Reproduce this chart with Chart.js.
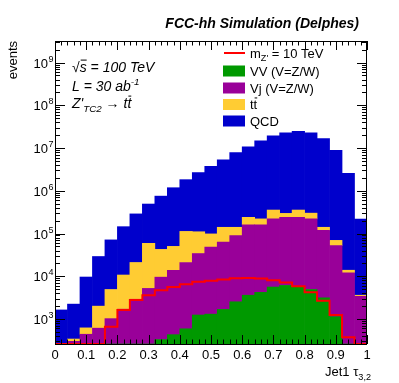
<!DOCTYPE html>
<html>
<head>
<meta charset="utf-8">
<script src="https://cdn.jsdelivr.net/npm/chart.js@4"></script>
<style>
  html, body { margin: 0; padding: 0; background: #fff; }
  #wrap { width: 399px; height: 383px; }
</style>
</head>
<body>
<div id="wrap"><canvas id="tauChart" width="399" height="383"></canvas></div>
<script>
// bin lower edges of Jet1 tau32 (width 0.04)
const binEdges = [0, 0.04, 0.08, 0.12, 0.16, 0.2, 0.24, 0.28, 0.32, 0.36, 0.4, 0.44, 0.48,
  0.52, 0.56, 0.6, 0.64, 0.68, 0.72, 0.76, 0.8, 0.84, 0.88, 0.92, 0.96];
const binWidth = 0.04;

// events per bin, stacked bottom to top: VV, Vj, ttbar, QCD
const vvEvents = [0, 0, 0, 0, 0, 0, 0, 0, 330, 430, 590, 1240, 1300, 1680, 2530, 3600, 4200,
  5600, 6100, 5600, 4900, 3130, 1130, 150, 0];
const vjEvents = [100, 300, 440, 610, 1020, 1700, 2900, 5200, 9200, 13400, 20400, 32800, 46700,
  61300, 86500, 156000, 156000, 214000, 234000, 234000, 215000, 115000, 51000, 11900, 3400];
const ttEvents = [30, 40, 180, 1390, 3880, 9000, 18100, 53800, 33000, 36200, 91000, 76000, 50000,
  77000, 51000, 80000, 60000, 135000, 56000, 115000, 80000, 22000, 17000, 1800, 200];
const qcdEvents = [1500, 1890, 8980, 27000, 66100, 134000, 267000, 431000, 708000, 1130000,
  1710000, 2560000, 3650000, 5160000, 7660000, 10460000, 14480000, 19050000, 22500000,
  24150000, 22500000, 16460000, 8830000, 2560000, 215000];
// Z' signal (10 TeV), not stacked; bins below the axis sit on the frame
const signalEvents = [260, 260, 260, 260, 660, 1620, 2770, 3600, 4700, 5600, 6500, 7400, 7900,
  8400, 9000, 9100, 8900, 8100, 7100, 5850, 4200, 2670, 1240, 375, 260];

const yMin = 260, yMax = 3.2e9;
const FONT = "'Liberation Sans', Arial, Helvetica, sans-serif";

function histPoints(values) {
  return values.map((v, i) => ({ x: binEdges[i] + binWidth / 2, y: v }));
}
function stepPoints(values) {
  const pts = values.map((v, i) => ({ x: binEdges[i], y: v }));
  pts.push({ x: 1, y: values[values.length - 1] });
  return pts;
}

// draw text made of pieces: [text, 'sub'|'sup'|'bar'|undefined]
function richText(ctx, x, y, parts, size, style) {
  let cx = x;
  parts.forEach(([t, kind]) => {
    let fs = size, dy = 0;
    if (kind === 'sub') { fs = size * 0.7; dy = size * 0.3; }
    if (kind === 'sup') { fs = size * 0.7; dy = -size * 0.42; }
    ctx.font = `${style} ${fs}px ${FONT}`;
    ctx.fillText(t, cx, y + dy);
    const w = ctx.measureText(t).width;
    if (kind === 'bar') {
      ctx.beginPath();
      ctx.lineWidth = 1;
      ctx.moveTo(cx + 1, y - size * 0.85);
      ctx.lineTo(cx + w, y - size * 0.85);
      ctx.stroke();
    }
    cx += w;
  });
  return cx;
}

const rootStyle = {
  id: 'rootStyle',
  afterDraw(chart) {
    const { ctx, chartArea: a, scales: { x, y } } = chart;
    ctx.save();
    ctx.strokeStyle = '#000';
    ctx.fillStyle = '#000';
    ctx.lineWidth = 1;
    ctx.strokeRect(a.left + 0.5, a.top + 0.5, a.right - a.left - 1, a.bottom - a.top);

    // x ticks (bottom and top, pointing inward)
    ctx.beginPath();
    for (let k = 0; k <= 50; k++) {
      const px = Math.round(x.getPixelForValue(k / 50)) + 0.5;
      const len = k % 5 === 0 ? 9 : 4.5;
      ctx.moveTo(px, a.bottom); ctx.lineTo(px, a.bottom - len);
      ctx.moveTo(px, a.top); ctx.lineTo(px, a.top + len);
    }
    // y ticks (left and right)
    for (let e = 2; e <= 9; e++) {
      for (let m = 1; m <= 9; m++) {
        const v = m * Math.pow(10, e);
        if (v < yMin || v > yMax) continue;
        const py = Math.round(y.getPixelForValue(v)) + 0.5;
        const len = m === 1 ? 10 : 5;
        ctx.moveTo(a.left, py); ctx.lineTo(a.left + len, py);
        ctx.moveTo(a.right, py); ctx.lineTo(a.right - len, py);
      }
    }
    ctx.stroke();

    // y labels 10^n
    ctx.textBaseline = 'alphabetic';
    for (let e = 3; e <= 9; e++) {
      const py = y.getPixelForValue(Math.pow(10, e));
      ctx.font = `13px ${FONT}`;
      ctx.textAlign = 'right';
      ctx.fillText('10', a.left - 7, py + 5);
      ctx.textAlign = 'left';
      ctx.font = `9px ${FONT}`;
      ctx.fillText(String(e), a.left - 6.5, py - 1);
    }

    // axis titles
    ctx.textAlign = 'left';
    richText(ctx, a.right - 42, 376, [['Jet1 \u03c4'], ['3,2', 'sub']], 13, 'normal');
    ctx.save();
    ctx.translate(17, a.top);
    ctx.rotate(-Math.PI / 2);
    ctx.textAlign = 'right';
    ctx.font = `13px ${FONT}`;
    ctx.fillText('events', 0, 0);
    ctx.restore();

    // header
    ctx.textAlign = 'right';
    ctx.font = `italic bold 14px ${FONT}`;
    ctx.fillText('FCC-hh Simulation (Delphes)', 359, 28);

    // process labels
    ctx.textAlign = 'left';
    const sx = richText(ctx, 72, 72, [['\u221a']], 14, 'italic');
    richText(ctx, sx, 72, [['s', 'bar'], [' = 100 TeV']], 14, 'italic');
    richText(ctx, 72, 91, [['L = 30 ab'], ['-1', 'sup']], 14, 'italic');
    const zx = richText(ctx, 72, 108, [["Z'"], ['TC2', 'sub'], [' \u2192 t']], 14, 'italic');
    richText(ctx, zx, 108, [['t', 'bar']], 14, 'italic');

    // legend
    const ds = chart.data.datasets;
    const rows = [
      { d: ds[0], y: 53, parts: [['m'], ["Z'", 'sub'], [' = 10 TeV']] },
      { d: ds[1], y: 71, parts: [['VV (V=Z/W)']] },
      { d: ds[2], y: 88, parts: [['Vj (V=Z/W)']] },
      { d: ds[3], y: 104.5, parts: [['t'], ['t', 'bar']] },
      { d: ds[4], y: 121, parts: [['QCD']] },
    ];
    rows.forEach(r => {
      if (r.d.type === 'line') {
        ctx.strokeStyle = r.d.borderColor;
        ctx.lineWidth = 2;
        ctx.beginPath();
        ctx.moveTo(224, r.y); ctx.lineTo(245, r.y);
        ctx.stroke();
      } else {
        ctx.fillStyle = r.d.backgroundColor;
        ctx.fillRect(223, r.y - 5.5, 22, 11);
      }
      ctx.fillStyle = '#000';
      ctx.strokeStyle = '#000';
      richText(ctx, 250, r.y + 4.5, r.parts, 13, 'normal');
    });
    ctx.restore();
  }
};

const barDefaults = { type: 'bar', grouped: false, barPercentage: 1, categoryPercentage: 1,
  borderWidth: 0, stack: 'bkg' };

new Chart(document.getElementById('tauChart'), {
  data: {
    datasets: [
      { type: 'line', label: "m_Z' = 10 TeV", data: stepPoints(signalEvents), stepped: true,
        borderColor: '#ff0000', borderWidth: 2, pointRadius: 0, fill: false, stack: 'sig', order: 0 },
      { ...barDefaults, label: 'VV (V=Z/W)', data: histPoints(vvEvents), backgroundColor: '#009900', order: 1 },
      { ...barDefaults, label: 'Vj (V=Z/W)', data: histPoints(vjEvents), backgroundColor: '#990099', order: 2 },
      { ...barDefaults, label: 'tt', data: histPoints(ttEvents), backgroundColor: '#ffcc33', order: 3 },
      { ...barDefaults, label: 'QCD', data: histPoints(qcdEvents), backgroundColor: '#0000cc', order: 4 },
    ]
  },
  options: {
    responsive: false,
    animation: false,
    devicePixelRatio: 1,
    layout: { padding: { left: 0, right: 32, top: 41, bottom: 0 } },
    plugins: { legend: { display: false }, tooltip: { enabled: false } },
    scales: {
      x: {
        type: 'linear', min: 0, max: 1, offset: false,
        grid: { display: false, drawTicks: false, offset: false }, border: { display: false },
        ticks: { stepSize: 0.1, padding: 4, color: '#000', font: { size: 13, family: FONT },
          maxRotation: 0, callback: v => String(Math.round(v * 10) / 10) },
        afterFit: s => { s.height = 39; }
      },
      y: {
        type: 'logarithmic', min: yMin, max: yMax, stacked: true,
        grid: { display: false, drawTicks: false }, border: { display: false },
        ticks: { display: false },
        afterFit: s => { s.width = 55; }
      }
    }
  },
  plugins: [rootStyle]
});
</script>
</body>
</html>
